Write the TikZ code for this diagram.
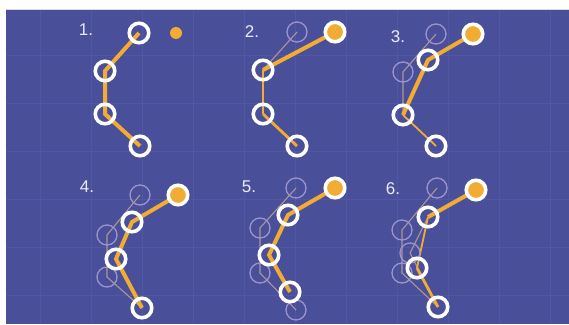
\documentclass[tikz,border=0pt]{standalone}
\usepackage{fontspec}
\setmainfont{Liberation Sans}
\pgfdeclarelayer{bg}
\pgfdeclarelayer{lines}
\pgfsetlayers{bg,lines,main}
\definecolor{bgblue}{RGB}{74,79,154}
\definecolor{gridc}{RGB}{81,87,162}
\definecolor{bone}{RGB}{242,172,52}
\definecolor{ghostc}{RGB}{158,148,205}
\definecolor{ghostl}{RGB}{172,150,150}
\definecolor{labelc}{RGB}{234,234,244}
\definecolor{edgec}{RGB}{215,215,220}
\begin{document}
\begin{tikzpicture}[x=1pt,y=-1pt,
  joint/.style={circle, draw=white, line width=3.6pt, minimum size=19.5pt, inner sep=0pt},
  eff/.style={joint, fill=bone},
  ghost/.style={circle, draw=ghostc, line width=1.3pt, minimum size=20pt, inner sep=0pt},
  target/.style={circle, fill=bone, minimum size=12pt, inner sep=0pt},
  boneT/.style={draw=bone, line width=4pt},
  boneM/.style={draw=bone, line width=2.8pt},
  boneS/.style={draw=bone, line width=1.8pt},
  gline/.style={draw=ghostl, line width=1.1pt},
  lab/.style={text=labelc, font=\fontsize{17}{17}\selectfont, inner sep=0pt}]
\useasboundingbox (0,0) rectangle (569,324);
\begin{pgfonlayer}{bg}
  \fill[white] (0,0) rectangle (569,324);
  \fill[bgblue] (6,10) rectangle (569,324);
  \draw[edgec, line width=1pt] (6,9.5) -- (569,9.5);
  \begin{scope}
    \clip (6,10) rectangle (569,324);
    \foreach \x in {40,91,142,193,244,295,346,397,448,499,550}
      \draw[gridc, line width=0.8pt] (\x,10) -- (\x,324);
    \foreach \y in {55,103,151,199,247,295}
      \draw[gridc, line width=0.8pt] (6,\y) -- (569,\y);
  \end{scope}
\end{pgfonlayer}

% ---------- Panel 1 ----------
\node[lab] (l1) at (86,30) {1.};
\node[target] (t1) at (176,33) {};
\node[joint] (a1) at (139,33) {};
\node[joint] (a2) at (105,71) {};
\node[joint] (a3) at (105,114) {};
\node[joint] (a4) at (140,146) {};
\begin{pgfonlayer}{lines}
  \draw[boneT] (a1.center) -- (a2.center) -- (a3.center) -- (a4.center);
\end{pgfonlayer}

% ---------- Panel 2 ----------
\node[lab] (l2) at (252,32) {2.};
\node[ghost] (bg1) at (297,32) {};
\node[eff] (b1) at (335,32) {};
\node[joint] (b2) at (263,70) {};
\node[joint] (b3) at (263,114) {};
\node[joint] (b4) at (297,146) {};
\begin{pgfonlayer}{lines}
  \draw[gline] (bg1.center) -- (b2.center);
  \draw[boneT] (b1.center) -- (b2.center);
  \draw[boneS] (b2.center) -- (b3.center);
  \draw[boneM] (b3.center) -- (b4.center);
\end{pgfonlayer}

% ---------- Panel 3 ----------
\node[lab] (l3) at (398,37) {3.};
\node[ghost] (cg1) at (436,34) {};
\node[ghost] (cg2) at (403,72) {};
\node[eff] (c1) at (473,34) {};
\node[joint] (c2) at (428,60) {};
\node[joint] (c3) at (403,115) {};
\node[joint] (c4) at (436,146) {};
\begin{pgfonlayer}{lines}
  \draw[gline] (cg1.center) -- (cg2.center) -- (c3.center);
  \draw[boneT] (c1.center) -- (c2.center) -- (c3.center);
  \draw[boneS] (c3.center) -- (c4.center);
\end{pgfonlayer}

% ---------- Panel 4 ----------
\node[lab] (l4) at (87,187) {4.};
\node[ghost] (dg1) at (140,195) {};
\node[ghost] (dg2) at (107,235) {};
\node[ghost] (dg3) at (107,277) {};
\node[eff] (d1) at (178,195) {};
\node[joint] (d2) at (132,222) {};
\node[joint] (d3) at (116,259) {};
\node[joint] (d4) at (142,308) {};
\begin{pgfonlayer}{lines}
  \draw[gline] (dg1.center) -- (dg2.center) -- (dg3.center) -- (d4.center);
  \draw[boneT] (d1.center) -- (d2.center) -- (d3.center) -- (d4.center);
\end{pgfonlayer}

% ---------- Panel 5 ----------
\node[lab] (l5) at (249,187) {5.};
\node[ghost] (eg1) at (296,188) {};
\node[ghost] (eg2) at (260,228) {};
\node[ghost] (eg3) at (260,273) {};
\node[ghost] (eg4) at (296,310) {};
\node[eff] (e1) at (335,188) {};
\node[joint] (e2) at (288,215) {};
\node[joint] (e3) at (269,255) {};
\node[joint] (e4) at (290,292) {};
\begin{pgfonlayer}{lines}
  \draw[gline] (eg1.center) -- (eg2.center) -- (eg3.center) -- (eg4.center);
  \draw[boneT] (e1.center) -- (e2.center) -- (e3.center) -- (e4.center);
\end{pgfonlayer}

% ---------- Panel 6 ----------
\node[lab] (l6) at (393,189) {6.};
\node[ghost] (fg1) at (437,188) {};
\node[ghost] (fg2) at (402,230) {};
\node[ghost] (fg3) at (410,253) {};
\node[ghost] (fg4) at (402,273) {};
\node[eff] (f1) at (476,190) {};
\node[joint] (f2) at (428,217) {};
\node[joint] (f3) at (417,268) {};
\node[joint] (f4) at (438,307) {};
\begin{pgfonlayer}{lines}
  \draw[gline] (fg1.center) -- (fg2.center) -- (fg4.center) -- (f4.center);
  \draw[gline] (f2.center) -- (fg3.center) -- (f4.center);
  \draw[boneT] (f1.center) -- (f2.center);
  \draw[boneS] (f2.center) -- (f3.center);
  \draw[boneM] (f3.center) -- (f4.center);
\end{pgfonlayer}
\end{tikzpicture}
\end{document}
